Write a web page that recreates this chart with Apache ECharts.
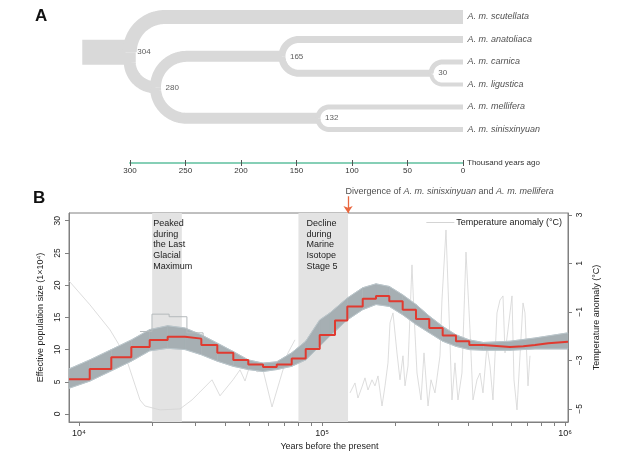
<!DOCTYPE html>
<html><head><meta charset="utf-8">
<script src="https://cdn.jsdelivr.net/npm/echarts@6/dist/echarts.min.js"></script>
<style>html,body{margin:0;padding:0;background:#fff}#c{width:618px;height:462px}</style>
</head><body><div id="c"></div>
<script>
// ---------------- Panel A data ----------------
const taxa = ['A. m. scutellata','A. m. anatoliaca','A. m. carnica','A. m. ligustica','A. m. mellifera','A. m. sinisxinyuan'];
const nodeIds = ['n304','n280','n165','n132','n30'];
const nodeAges = [304, 280, 165, 132, 30];            // thousand years ago
const nodeChildren = [
  ['A. m. scutellata','n280'],
  ['n165','n132'],
  ['A. m. anatoliaca','n30'],
  ['A. m. mellifera','A. m. sinisxinyuan'],
  ['A. m. carnica','A. m. ligustica']
];
const rootAge = 343;
const treeTicks = [0, 50, 100, 150, 200, 250, 300];

// ---------------- Panel B data ----------------
const psmcYears = [9095, 11070, 13580, 16420, 19540, 23170, 27310, 31870, 37080, 43150, 49730, 57180, 65120, 75050, 85700, 97840, 113100, 127100, 147100, 166800, 189200, 214800, 243700, 276400, 313800, 355900, 403800, 461100, 593900, 673600, 752400, 853700, 1029000];
const psmcNe = [5.4, 7.0, 8.8, 10.4, 11.5, 12.0, 11.7, 10.7, 9.5, 8.4, 7.7, 7.3, 7.7, 8.6, 10.1, 12.25, 14.5, 16.7, 17.9, 18.3, 17.5, 16.2, 14.75, 13.35, 12.2, 11.3, 10.7, 10.4, 10.5, 10.7, 11.0, 11.2, 11.2];

const bootYears = [9095, 11070, 13580, 16420, 19540, 23170, 27310, 31870, 37080, 43150, 49730, 57180, 65120, 75050, 85700, 97840, 107900, 127100, 147100, 166800, 189200, 214800, 243700, 276400, 313800, 355900, 403800, 461100, 593900, 752400, 1029000];
const bootUpper = [7.0, 8.4, 10.0, 11.5, 13.1, 13.7, 13.35, 12.3, 11.0, 9.7, 8.4, 7.9, 8.1, 9.5, 11.3, 14.6, 15.7, 18.0, 19.6, 20.2, 19.8, 18.5, 17.0, 15.2, 13.6, 12.3, 11.5, 11.1, 11.3, 11.8, 12.6];
const bootLower = [4.0, 5.1, 6.7, 8.2, 9.8, 10.2, 10.0, 9.2, 8.2, 7.4, 6.9, 6.6, 6.9, 7.4, 8.4, 10.5, 12.1, 14.6, 16.2, 17.0, 16.7, 15.4, 13.9, 12.6, 11.3, 10.5, 10.0, 9.9, 9.9, 10.1, 10.1];
const outlierYears = [17820, 19970, 23490, 27800, 32400];
const outlierNe = [12.8, 15.5, 15.1, 12.6, 11.6];

const tempYears = [9095, 11100, 13420, 15470, 17820, 18690, 21540, 26040, 29170, 31470, 35260, 38040, 43030, 45980, 48220, 50540, 54030, 57180, 62270, 67180, 72460, 77420, 100000,
  130400, 136700, 140600, 146100, 150300, 154600, 160600, 165200, 170000, 176600, 181700, 186900, 190500, 196000, 203500, 209400, 215400, 219600, 225900, 234600, 239100, 246000, 255500, 262900, 273100, 280900, 291700, 305900, 311700, 323800, 333100, 342700, 352600, 362700, 376700, 391400, 406500, 418200, 434400, 446900, 459800, 477500, 491300, 505400, 525000, 540200, 555800, 566400, 582700, 605200, 616700, 634600, 652900, 671800, 684600, 704300, 717800];
const tempAnomaly = [0.28, -0.71, -1.74, -2.77, -4.63, -4.88, -5.04, -5.0, -4.63, -4.3, -3.8, -4.46, -3.8, -3.39, -3.85, -3.19, -3.47, -3.39, -4.92, -3.8, -2.69, -2.15, null,
  -4.34, -3.93, -4.55, -4.09, -3.72, -4.22, -3.8, -4.05, -3.64, -4.88, -4.05, -3.1, -1.45, -1.04, -2.69, -3.8, -2.81, -4.05, -3.23, 0.94, -1.04, -3.52, -4.63, -2.69, -4.88, -3.8, -4.34, -2.81, -0.51, 2.38, -1.04, -4.63, -3.1, -4.63, -3.52, 1.47, -1.74, -4.63, -3.8, -3.52, -4.34, -2.4, -3.23, -4.63, -1.04, -0.51, -0.34, -2.69, -1.74, -0.34, -3.8, -5.04, -2.81, -0.63, -1.04, -4.05, -2.81];

const xTickYears = [10000,20000,30000,40000,50000,60000,70000,80000,90000,100000,200000,300000,400000,500000,600000,700000,800000,900000,1000000];
const xLabelYears = [10000, 100000, 1000000];
const neTicks = [0, 5, 10, 15, 20, 25, 30];
const tempTicks = [-5, -3, -1, 1, 3];
const lgmPeriod = [20000, 26500];
const mis5Period = [80000, 128000];
const divergenceYears = 128000;

// ---------------- tree layout ----------------
const yOf = {}; taxa.forEach((t, i) => { yOf[t] = i; });
const ageOf = {}; taxa.forEach(t => { ageOf[t] = 0; }); nodeIds.forEach((n, i) => { ageOf[n] = nodeAges[i]; });
function nodeY(id) {
  if (id in yOf) return yOf[id];
  const c = nodeChildren[nodeIds.indexOf(id)];
  yOf[id] = (nodeY(c[0]) + nodeY(c[1])) / 2;
  return yOf[id];
}
nodeIds.forEach(nodeY);
const WIDTH = {'n304': 25, 'A. m. scutellata': 14, 'n280': 12, 'n165': 11, 'n132': 11, 'A. m. anatoliaca': 7, 'n30': 7,
  'A. m. carnica': 5, 'A. m. ligustica': 4, 'A. m. mellifera': 5, 'A. m. sinisxinyuan': 5};
function cWidth(id) { const i = nodeIds.indexOf(id); if (i < 0) return 0; const c = nodeChildren[i]; return Math.max(WIDTH[c[0]], WIDTH[c[1]]); }
const branchData = [], branchMeta = [];
branchData.push([rootAge, yOf.n304, ageOf.n304, yOf.n304]);
branchMeta.push({w: WIDTH.n304, pc: 0, cc: cWidth('n304'), leaf: false});
nodeIds.forEach((n, i) => nodeChildren[i].forEach(c => {
  branchData.push([ageOf[n], yOf[n], ageOf[c], yOf[c]]);
  branchMeta.push({w: WIDTH[c], pc: cWidth(n), cc: cWidth(c), leaf: taxa.indexOf(c) >= 0});
}));

function renderBranch(params, api) {
  const m = branchMeta[params.dataIndex];
  const P = api.coord([api.value(0), api.value(1)]);
  const C = api.coord([api.value(2), api.value(3)]);
  const xEnd = m.leaf ? C[0] : C[0] + 0.3 * m.cc;
  let pts;
  if (Math.abs(C[1] - P[1]) < 0.5) {
    pts = [[P[0], P[1]], [xEnd - 0.3 * m.cc, C[1]]];
  } else {
    const x0 = P[0] + 0.3 * m.pc;
    const dy = C[1] - P[1], s = dy > 0 ? 1 : -1;
    const r = Math.min(Math.abs(dy), xEnd - x0);
    const cx = x0 + r, cy = C[1] - s * r;
    pts = [[x0, P[1]]];
    for (let k = 0; k <= 30; k++) {
      const th = Math.PI - s * (Math.PI / 2) * k / 30;
      pts.push([cx + r * Math.cos(th), cy + r * Math.sin(th)]);
    }
    pts.push([xEnd, C[1]]);
  }
  return {type: 'polyline', shape: {points: pts},
    style: {stroke: '#d9d9d9', lineWidth: m.w, fill: null, lineCap: 'butt', lineJoin: 'round'}};
}

// bootstrap envelope drawn as quads between consecutive samples
const bandData = bootYears.slice(0, -1).map((y, i) =>
  [y, bootLower[i], bootUpper[i], bootYears[i + 1], bootLower[i + 1], bootUpper[i + 1]]);
function renderBand(params, api) {
  const a = api.coord([api.value(0), api.value(1)]);
  const b = api.coord([api.value(3), api.value(4)]);
  const c = api.coord([api.value(3), api.value(5)]);
  const d = api.coord([api.value(0), api.value(2)]);
  return {type: 'polygon', shape: {points: [a, b, c, d]},
    style: {fill: '#a6afb3', stroke: '#a6afb3', lineWidth: 0.6}};
}

const SUP = {'4': '⁴', '5': '⁵', '6': '⁶'};
const FONT = 'Liberation Sans, Arial, Helvetica, sans-serif';
const TXT = '#222';
const AX = '#808080';

const chart = echarts.init(document.getElementById('c'), null, {renderer: 'canvas'});
chart.setOption({
  animation: false,
  textStyle: {fontFamily: FONT},
  graphic: [
    {type: 'text', left: 35, top: 8, style: {text: 'A', font: 'bold 17px ' + FONT, fill: '#111'}},
    {type: 'text', left: 33, top: 190, style: {text: 'B', font: 'bold 17px ' + FONT, fill: '#111'}}
  ],
  legend: {
    data: [{name: 'Temperature anomaly (°C)', icon: 'rect'}], right: 51, top: 213, itemWidth: 28, itemHeight: 1, itemGap: 0,
    itemStyle: {color: '#d4d4d4'},
    textStyle: {fontSize: 9, color: TXT, padding: [0, 0, 0, -3]}
  },
  grid: [
    {left: 130, width: 333, top: 10, height: 153},
    {left: 69, right: 50, top: 213, bottom: 40, show: true, borderColor: AX, borderWidth: 1, backgroundColor: 'transparent'},
    {left: 69, right: 50, top: 186, height: 27}
  ],
  xAxis: [
    {gridIndex: 0, type: 'value', min: 0, max: 300, interval: 50, inverse: true,
      axisLine: {onZero: false, lineStyle: {color: '#86cfb6', width: 2}},
      axisTick: {length: 3, lineStyle: {color: '#555'}},
      axisLabel: {fontSize: 8, color: '#333', margin: 4},
      splitLine: {show: false},
      name: 'Thousand years ago', nameLocation: 'start', nameGap: 4,
      nameTextStyle: {fontSize: 8, color: '#333'}},
    {gridIndex: 0, type: 'value', min: 0, max: 300, interval: 50, inverse: true, position: 'bottom',
      axisLine: {show: false, onZero: false}, axisTick: {inside: true, length: 3, lineStyle: {color: '#555'}},
      axisLabel: {show: false}, splitLine: {show: false}},
    {gridIndex: 1, type: 'log', logBase: 10, min: 9095, max: 1029000,
      axisLine: {onZero: false, lineStyle: {color: AX}},
      axisTick: {customValues: xTickYears, length: 4, lineStyle: {color: AX}},
      axisLabel: {customValues: xLabelYears, fontSize: 9, color: TXT, margin: 7,
        formatter: v => '10' + SUP[String(Math.round(Math.log10(v)))]},
      splitLine: {show: false}, minorTick: {show: false},
      name: 'Years before the present', nameLocation: 'middle', nameGap: 20,
      nameTextStyle: {fontSize: 9, color: TXT, padding: [0, 0, 0, 22]}},
    {gridIndex: 2, type: 'log', logBase: 10, min: 9095, max: 1029000, show: false}
  ],
  yAxis: [
    {gridIndex: 0, type: 'value', min: -0.311, max: 6.489, inverse: true, show: false},
    {gridIndex: 1, type: 'value', min: -1.24, max: 31.2, position: 'left',
      axisLine: {show: true, onZero: false, lineStyle: {color: AX}},
      axisTick: {show: true, customValues: neTicks, length: 4, lineStyle: {color: AX}},
      axisLabel: {customValues: neTicks, rotate: 90, fontSize: 8.5, color: TXT, margin: 7},
      splitLine: {show: false},
      name: 'Effective population size (1×10⁴)', nameLocation: 'middle', nameRotate: 90, nameGap: 20,
      nameTextStyle: {fontSize: 9, color: TXT}},
    {gridIndex: 1, type: 'value', min: -5.54, max: 3.08, position: 'right',
      axisLine: {show: true, onZero: false, lineStyle: {color: AX}},
      axisTick: {show: true, customValues: tempTicks, length: 4, lineStyle: {color: AX}},
      axisLabel: {customValues: tempTicks, rotate: 90, fontSize: 8.5, color: TXT, margin: 7,
        formatter: v => String(v).replace('-', '−')},
      splitLine: {show: false},
      name: 'Temperature anomaly (°C)', nameLocation: 'middle', nameRotate: 90, nameGap: 19,
      nameTextStyle: {fontSize: 9, color: TXT}},
    {gridIndex: 2, type: 'value', min: 0, max: 1, show: false}
  ],
  series: [
    {type: 'custom', name: 'tree', xAxisIndex: 0, yAxisIndex: 0, renderItem: renderBranch, data: branchData, silent: true, z: 2, clip: false},
    {type: 'scatter', name: 'nodes', xAxisIndex: 0, yAxisIndex: 0, symbolSize: 1, silent: true, z: 3, clip: false,
      itemStyle: {color: 'rgba(0,0,0,0)'},
      data: nodeIds.map((n, i) => ({value: [nodeAges[i], yOf[n]],
        label: {offset: [0.3 * cWidth(n) + cWidth(n) / 2 + (i === 0 ? 0 : 4), 0]}})),
      label: {show: true, position: 'right', distance: 0, fontSize: 8, color: '#333',
        formatter: p => String(p.value[0])}},
    {type: 'scatter', name: 'taxa', xAxisIndex: 0, yAxisIndex: 0, symbolSize: 1, silent: true, z: 3, clip: false,
      itemStyle: {color: 'rgba(0,0,0,0)'},
      data: taxa.map((t, i) => [0, i]),
      label: {show: true, position: 'right', distance: 4, fontSize: 9, fontStyle: 'italic', color: TXT,
        formatter: p => taxa[p.dataIndex]}},
    {type: 'line', name: 'shade', xAxisIndex: 2, yAxisIndex: 1, data: [], z: 1, silent: true,
      markArea: {silent: true, itemStyle: {color: '#e3e3e3'},
        label: {show: true, position: 'insideTopLeft', distance: 5, fontSize: 9, lineHeight: 10.7, color: TXT},
        data: [
          [{xAxis: lgmPeriod[0], name: 'Peaked\nduring\nthe Last\nGlacial\nMaximum', label: {offset: [-4, 0]}}, {xAxis: lgmPeriod[1]}],
          [{xAxis: mis5Period[0], name: 'Decline\nduring\nMarine\nIsotope\nStage 5', label: {offset: [3, 0]}}, {xAxis: mis5Period[1]}]
        ]}},
    {type: 'line', name: 'Temperature anomaly (°C)', xAxisIndex: 2, yAxisIndex: 2, z: 2,
      data: tempYears.map((y, i) => [y, tempAnomaly[i]]), showSymbol: false, symbol: 'none', connectNulls: false,
      lineStyle: {color: '#d4d4d4', width: 0.8}, itemStyle: {color: '#d4d4d4'}},
    {type: 'custom', name: 'bootBand', xAxisIndex: 2, yAxisIndex: 1, z: 3, silent: true,
      renderItem: renderBand, data: bandData},
    {type: 'line', name: 'bootLower', xAxisIndex: 2, yAxisIndex: 1, z: 3, symbol: 'none', silent: true,
      data: bootYears.map((y, i) => [y, bootLower[i]]), lineStyle: {color: '#bac6cb', width: 1}},
    {type: 'line', name: 'bootUpper', xAxisIndex: 2, yAxisIndex: 1, z: 3, symbol: 'none', silent: true,
      data: bootYears.map((y, i) => [y, bootUpper[i]]), lineStyle: {color: '#bac6cb', width: 1}},
    {type: 'line', name: 'outlier', xAxisIndex: 2, yAxisIndex: 1, step: 'end', z: 4, symbol: 'none', silent: true,
      data: outlierYears.map((y, i) => [y, outlierNe[i]]), lineStyle: {color: '#b4b9bb', width: 1}},
    {type: 'line', name: 'PSMC', xAxisIndex: 2, yAxisIndex: 1, step: 'end', z: 5, symbol: 'none', silent: true,
      data: psmcYears.map((y, i) => [y, psmcNe[i]]), lineStyle: {color: '#e03a30', width: 2}},
    {type: 'lines', coordinateSystem: 'cartesian2d', xAxisIndex: 3, yAxisIndex: 3, z: 6, silent: true,
      data: [{coords: [[divergenceYears, 0.62], [divergenceYears, 0.0]]}],
      symbol: ['none', 'arrow'], symbolSize: 7, lineStyle: {color: '#e9673f', width: 1.3, opacity: 1}},
    {type: 'scatter', name: 'divLabel', xAxisIndex: 3, yAxisIndex: 3, symbolSize: 1, silent: true, z: 6,
      itemStyle: {color: 'rgba(0,0,0,0)'},
      data: [[divergenceYears, 0.78]],
      label: {show: true, position: 'right', distance: 0, offset: [-3, 0],
        formatter: '{n|Divergence of }{i|A. m. sinisxinyuan}{n| and }{i|A. m. mellifera}',
        rich: {n: {fontSize: 9, color: TXT, fontFamily: FONT}, i: {fontSize: 9, color: TXT, fontStyle: 'italic', fontFamily: FONT}}}}
  ]
});
</script></body></html>
